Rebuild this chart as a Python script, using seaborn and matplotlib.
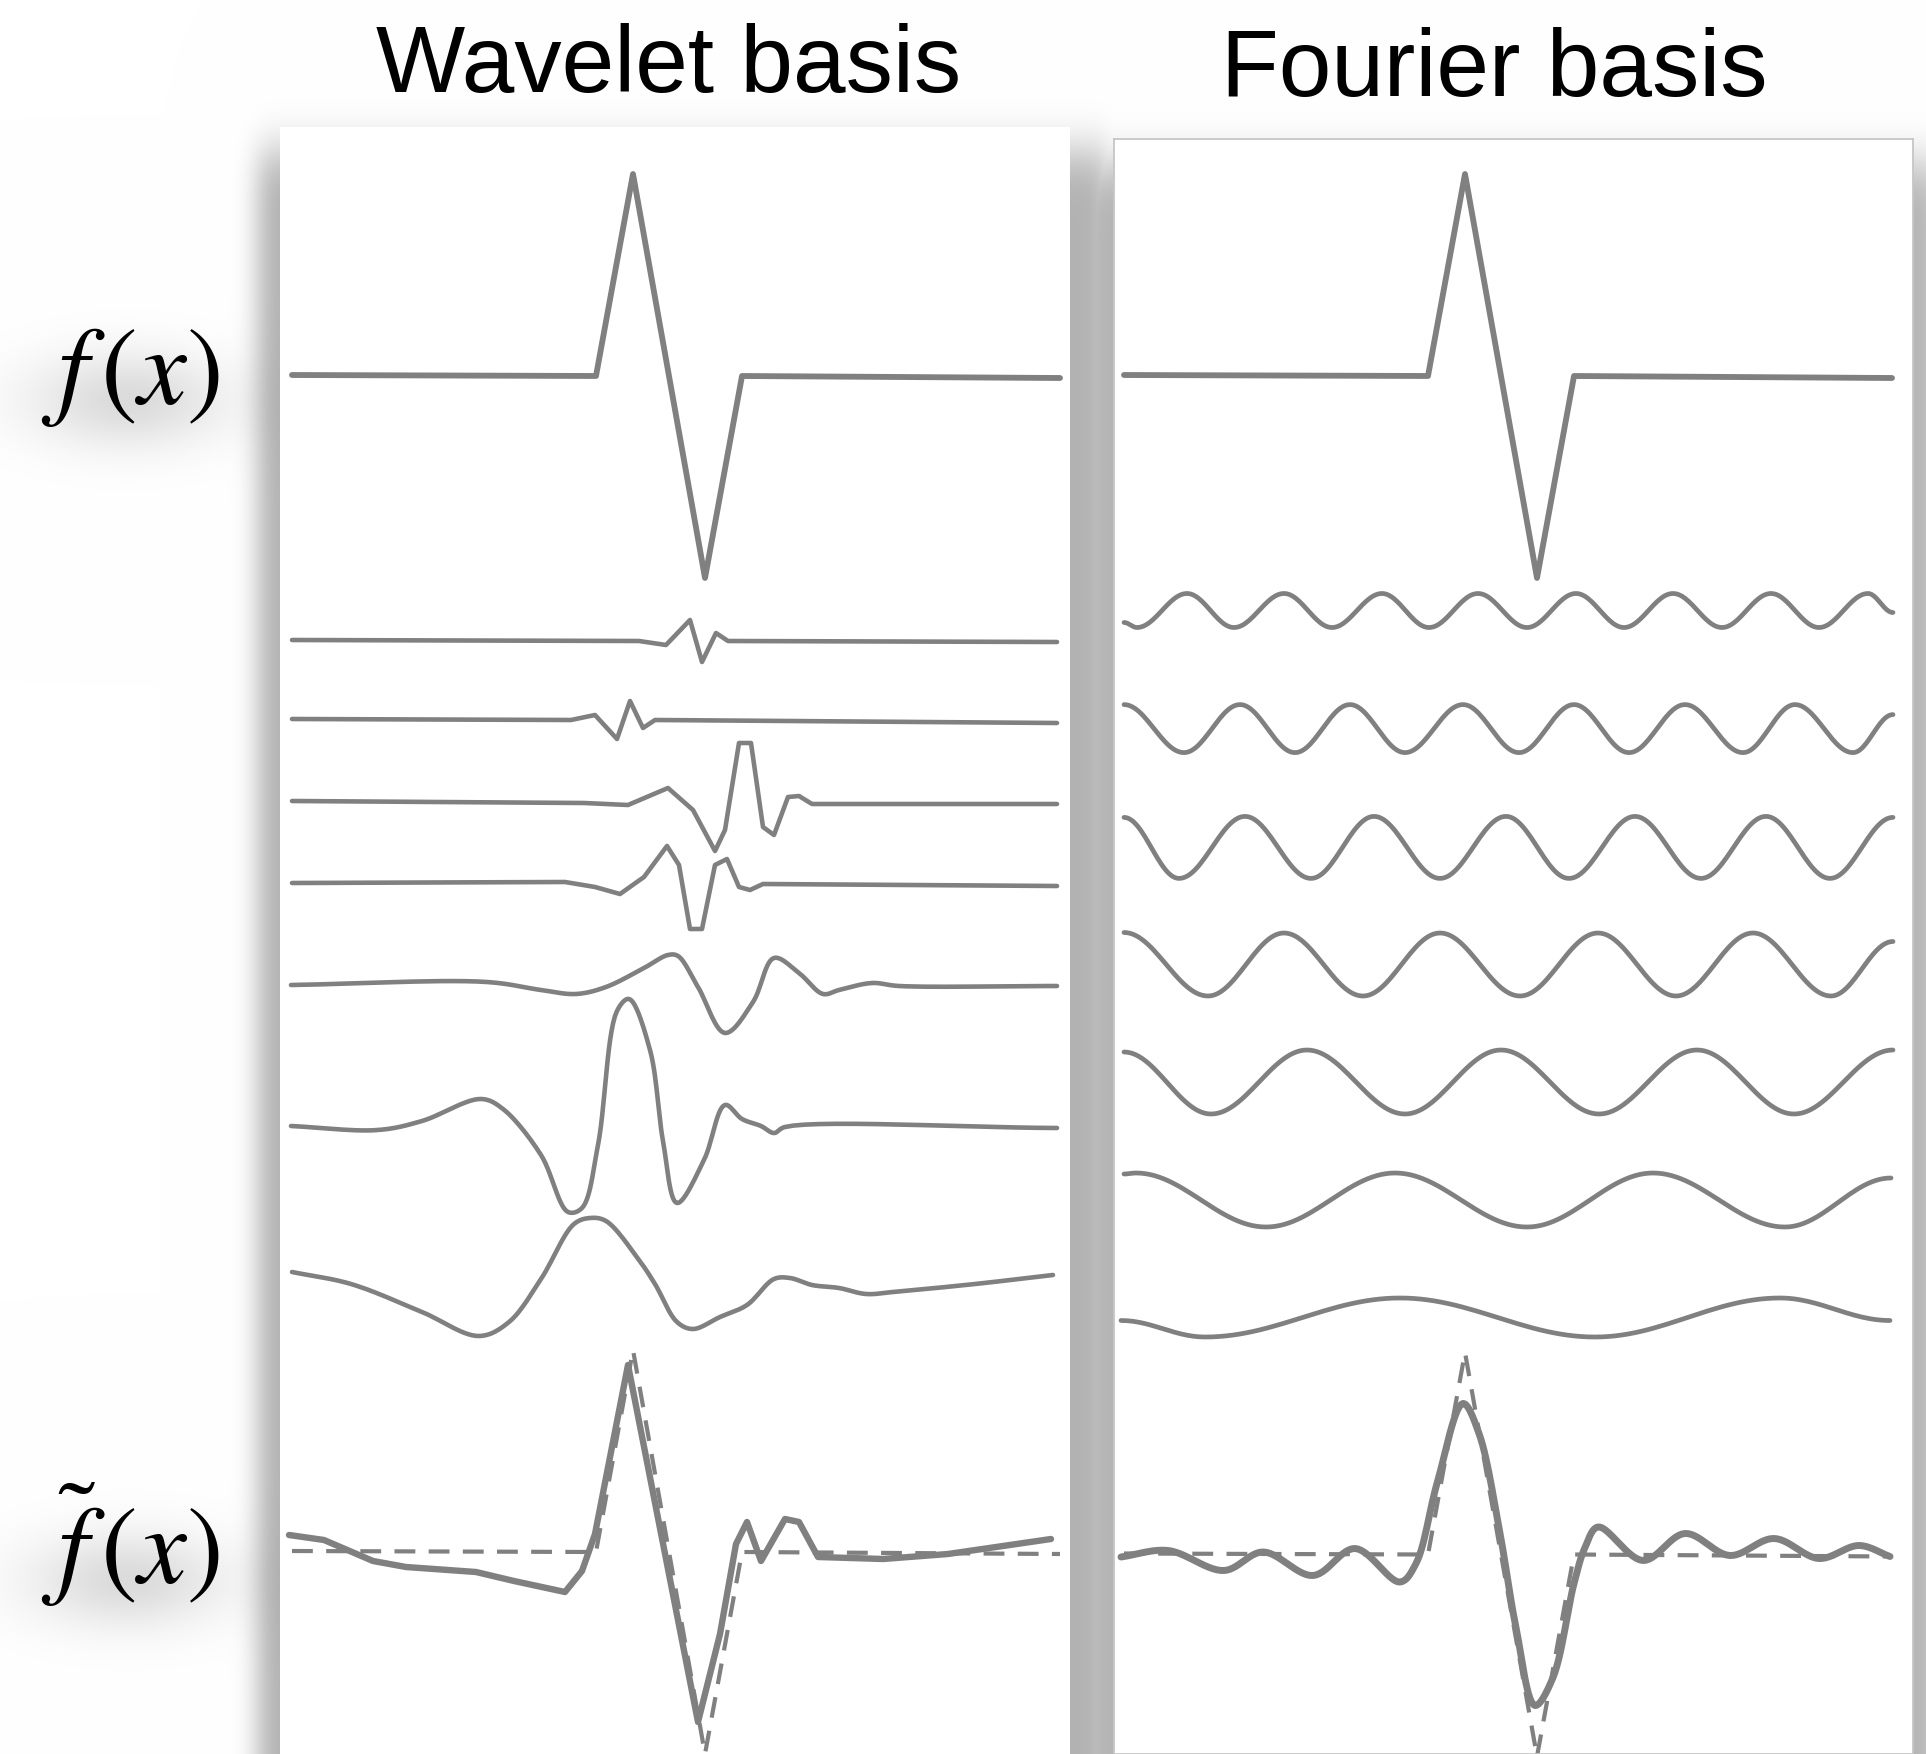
import numpy as np
import matplotlib
matplotlib.use("Agg")
import matplotlib.pyplot as plt
import seaborn as sns
from math import erf

# ---------------- data (x: position along signal axis, y: value, up = positive) ----
SIGNAL_X = [2, 306, 343, 415, 452, 770]
SIGNAL_Y = [1, 0, 202, -202, 0, -2]

# wavelet basis functions (finest first)
W1_X = [2, 349, 376, 400, 412, 426, 438, 767]
W1_Y = [1, 0, -4, 21, -21, 8, 0, -1]
W2_X = [2, 281, 305, 327, 340, 353, 365, 767]
W2_Y = [1, 0, 5, -19, 19, -8, 0, -3]
W3_X = [2, 294, 338, 378, 403, 425, 435, 449, 461, 473, 484, 498, 509, 522, 767]
W3_Y = [2, 0, -2, 15, -7, -48, -27, 60, 60, -24, -32, 6, 7, -1, -1]
W4_X = [2, 275, 305, 330, 354, 377, 389, 400, 412, 425, 437, 449, 460, 473, 767]
W4_Y = [1, 2, -3, -10, 7, 38, 19, -45, -45, 19, 25, -3, -6, 0, -2]
W5_X = [1, 197, 251, 286, 316, 354, 378, 388, 408, 435, 463, 484, 509, 533, 549, 582, 609, 767]
W5_Y = [0, 3, -5, -9, -2, 17, 30, 29, -2, -48, -17, 27, 12, -9, -5, 2, -1, -1]
W6_X = [1, 88, 132, 191, 213, 251, 278, 292, 308, 327, 339, 360, 373, 387, 414, 435, 452, 471, 484, 495, 767]
W6_Y = [1, -3, 6, 28, 18, -28, -85, -81, -18, 116, 128, 77, -14, -76, -33, 22, 8, 1, -6, 0, -1]
W7_X = [2, 61, 132, 189, 219, 251, 284, 300, 316, 349, 365, 387, 403, 430, 457, 484, 500, 522, 549, 576, 603, 685, 763]
W7_Y = [18, 6, -22, -46, -32, 11, 66, 72, 69, 30, 6, -32, -39, -27, -15, 11, 12, 5, 2, -4, -2, 6, 15]

# wavelet reconstruction
WR_X = [-1, 34, 83, 116, 186, 224, 275, 292, 305, 338, 408, 430, 446, 457, 471, 495, 509, 528, 593, 658, 761]
WR_Y = [17, 12, -9, -15, -20, -29, -40, -19, 18, 187, -170, -82, 8, 30, -9, 33, 30, -5, -7, -2, 13]

# Fourier basis functions (extrema, highest frequency first)
F1_X = [2, 15, 65, 112, 162, 210, 260, 307, 356, 405, 454, 502, 551, 600, 649, 697, 746, 771]
F1_Y = [-12, -17, 17, -17, 17, -17, 17, -17, 17, -17, 17, -17, 17, -17, 17, -17, 17, -2]
F2_X = [2, 62, 118, 173, 228, 283, 341, 397, 452, 507, 563, 621, 673, 731, 771]
F2_Y = [24, -24, 24, -24, 24, -24, 24, -24, 24, -24, 24, -24, 24, -24, 14]
F3_X = [2, 57, 123, 189, 252, 318, 384, 447, 513, 579, 644, 708, 771]
F3_Y = [30, -31, 31, -31, 31, -31, 31, -31, 31, -31, 31, -31, 30]
F4_X = [2, 86, 162, 241, 318, 398, 476, 554, 631, 709, 771]
F4_Y = [32, -31.5, 31.5, -31.5, 31.5, -31.5, 31.5, -31.5, 31.5, -31.5, 23]
F5_X = [2, 89, 185, 283, 379, 477, 575, 672, 771]
F5_Y = [30, -32, 32, -32, 32, -32, 32, -32, 32]
F6_X = [2, 14, 144, 273, 405, 531, 663, 769]
F6_Y = [26, 27, -27, 27, -27, 27, -27, 22]
F7_X = [-1, 83, 278, 473, 658, 768]
F7_Y = [-3, -19.5, 19.5, -19.5, 19.5, -3]

# Fourier reconstruction
FR_X = [-1, 46, 102, 141, 191, 233, 278, 294, 315, 341, 357, 378, 394, 413, 431, 452, 463, 476, 521, 563, 608, 652, 697, 737, 768]
FR_Y = [-2.5, 4, -16, 2.5, -21, 6, -27.5, -9, 71, 151, 121, 21, -73, -151, -123, -29, 7, 27.5, -6, 21, -1, 16, -4, 9, -2]

TITLES = ["Wavelet basis", "Fourier basis"]
LABEL_F = r"$f\,(x)$"
LABEL_FT = r"$\tilde{f}\,(x)$"

# ---------------- layout / style ---------------------------------------------------
W, H = 1926, 1754
LINE = "#808080"

LEFT = dict(x0=280, x1=1070, top=127, origin=290)
RIGHT = dict(x0=1114, x1=1913, top=139, origin=1122)
LEFT_BASE = [641, 720, 803, 884, 985, 1127, 1290]
RIGHT_BASE = [610.5, 728.6, 847.4, 964.5, 1082, 1200, 1317.5]
SMOOTH_WAVELET = [False, False, False, False, True, True, True]
SIGNAL_BASE = 376
LEFT_REC_BASE = 1552
RIGHT_REC_BASE = 1554.5


def eased(xs, ys, n=28):
    xs = np.asarray(xs, float)
    ys = np.asarray(ys, float)
    px, py = [], []
    t = np.linspace(0, 1, n, endpoint=False)
    for i in range(len(xs) - 1):
        px.append(xs[i] + (xs[i + 1] - xs[i]) * t)
        py.append(ys[i] + (ys[i + 1] - ys[i]) * (1 - np.cos(np.pi * t)) / 2)
    px.append([xs[-1]])
    py.append([ys[-1]])
    return np.concatenate(px), np.concatenate(py)


def catmull(xs, ys, n=14, alpha=0.5):
    """Centripetal Catmull-Rom rendering of a polyline (no loops/overshoot)."""
    P = np.column_stack([xs, ys]).astype(float)
    P = np.vstack([2 * P[0] - P[1], P, 2 * P[-1] - P[-2]])
    out = []
    for i in range(1, len(P) - 2):
        p0, p1, p2, p3 = P[i - 1], P[i], P[i + 1], P[i + 2]
        t0 = 0.0
        t1 = t0 + max(np.linalg.norm(p1 - p0), 1e-6) ** alpha
        t2 = t1 + max(np.linalg.norm(p2 - p1), 1e-6) ** alpha
        t3 = t2 + max(np.linalg.norm(p3 - p2), 1e-6) ** alpha
        t = np.linspace(t1, t2, n, endpoint=False)[:, None]
        A1 = (t1 - t) / (t1 - t0) * p0 + (t - t0) / (t1 - t0) * p1
        A2 = (t2 - t) / (t2 - t1) * p1 + (t - t1) / (t2 - t1) * p2
        A3 = (t3 - t) / (t3 - t2) * p2 + (t - t2) / (t3 - t2) * p3
        B1 = (t2 - t) / (t2 - t0) * A1 + (t - t0) / (t2 - t0) * A2
        B2 = (t3 - t) / (t3 - t1) * A2 + (t - t1) / (t3 - t1) * A3
        C = (t2 - t) / (t2 - t1) * B1 + (t - t1) / (t2 - t1) * B2
        out.append(C)
    out.append(P[-2][None])
    out = np.vstack(out)
    return out[:, 0], out[:, 1]


sns.set_style("white")
plt.rcParams["mathtext.fontset"] = "stix"
plt.rcParams["font.family"] = ["Liberation Sans", "DejaVu Sans"]

fig = plt.figure(figsize=(W / 100, H / 100), dpi=100)

# ---- background with soft drop shadows ----
xs = np.arange(W) + 0.5
ys = np.arange(H) + 0.5
verf = np.vectorize(erf)


def soft_rect(x0, x1, y0, y1, sx, sy):
    fx = 0.5 * (verf((xs - x0) / (sx * np.sqrt(2))) - verf((xs - x1) / (sx * np.sqrt(2))))
    fy = 0.5 * (verf((ys - y0) / (sy * np.sqrt(2))) - verf((ys - y1) / (sy * np.sqrt(2))))
    return np.outer(fy, fx)


dark = np.maximum(0.30 * soft_rect(258, 1110, 152, 2400, 12, 24),
                  0.29 * soft_rect(1080, 1940, 165, 2400, 12, 24))
XX, YY = np.meshgrid(xs, ys)
for cy in (400, 1580):
    dark = dark + 0.14 * np.exp(-(((XX - 128) / 70) ** 2 / 2 + ((YY - cy) / 34) ** 2 / 2))
dark = np.clip(dark, 0, 1)
bg = fig.add_axes([0, 0, 1, 1], zorder=0)
img = np.dstack([1 - dark] * 3)
bg.imshow(img, extent=[0, W, H, 0], aspect="auto", interpolation="bilinear")
bg.set_xlim(0, W)
bg.set_ylim(H, 0)
bg.axis("off")


def make_panel(spec, bordered):
    ax = fig.add_axes([spec["x0"] / W, 0, (spec["x1"] - spec["x0"]) / W, (H - spec["top"]) / H],
                      zorder=2)
    ax.set_facecolor("white")
    ax.set_xlim(spec["x0"] - spec["origin"], spec["x1"] - spec["origin"])
    ax.set_ylim(H, spec["top"])
    ax.set_xticks([])
    ax.set_yticks([])
    for s in ax.spines.values():
        if bordered:
            s.set_color("#c6c6c6")
            s.set_linewidth(1.3)
        else:
            s.set_visible(False)
    return ax


def draw(ax, x, y, base, lw, dashed=False):
    y = base - np.asarray(y, float)
    sns.lineplot(x=np.asarray(x, float), y=y, ax=ax, color=LINE, linewidth=lw,
                 sort=False, estimator=None, legend=False)
    ln = ax.lines[-1]
    ln.set_solid_joinstyle("round")
    ln.set_solid_capstyle("round")
    if dashed:
        ln.set_linestyle((0, (5, 3.2)))
        ln.set_dash_capstyle("butt")


axL = make_panel(LEFT, False)
axR = make_panel(RIGHT, True)

# left panel: wavelets
draw(axL, SIGNAL_X, SIGNAL_Y, SIGNAL_BASE, 4.2)
for (wx, wy), b, smooth in zip([(W1_X, W1_Y), (W2_X, W2_Y), (W3_X, W3_Y), (W4_X, W4_Y),
                                (W5_X, W5_Y), (W6_X, W6_Y), (W7_X, W7_Y)], LEFT_BASE,
                               SMOOTH_WAVELET):
    if smooth:
        wx, wy = catmull(wx, wy)
    draw(axL, wx, wy, b, 3.3)
draw(axL, SIGNAL_X, SIGNAL_Y, LEFT_REC_BASE, 3.0, dashed=True)
draw(axL, WR_X, WR_Y, LEFT_REC_BASE, 4.6)

# right panel: Fourier
draw(axR, SIGNAL_X, SIGNAL_Y, SIGNAL_BASE, 4.2)
for (fx, fy), b in zip([(F1_X, F1_Y), (F2_X, F2_Y), (F3_X, F3_Y), (F4_X, F4_Y),
                        (F5_X, F5_Y), (F6_X, F6_Y), (F7_X, F7_Y)], RIGHT_BASE):
    ex, ey = eased(fx, fy)
    draw(axR, ex, ey, b, 3.4)
draw(axR, SIGNAL_X, SIGNAL_Y, RIGHT_REC_BASE, 3.0, dashed=True)
cx, cy = catmull(FR_X, FR_Y)
draw(axR, cx, cy, RIGHT_REC_BASE, 5.0)

# titles & labels
fig.text(669 / W, 1 - 92 / H, TITLES[0], ha="center", va="baseline",
         fontsize=68, family=["Liberation Sans", "DejaVu Sans"], color="black", zorder=5)
fig.text(1494 / W, 1 - 96 / H, TITLES[1], ha="center", va="baseline",
         fontsize=68, family=["Liberation Sans", "DejaVu Sans"], color="black", zorder=5)
fig.text(130 / W, 1 - 404 / H, LABEL_F, ha="center", va="baseline", fontsize=79,
         color="black", zorder=5)
fig.text(130 / W, 1 - 1584 / H, LABEL_FT, ha="center", va="baseline", fontsize=79,
         color="black", zorder=5)

fig.savefig("out.png", dpi=100)
